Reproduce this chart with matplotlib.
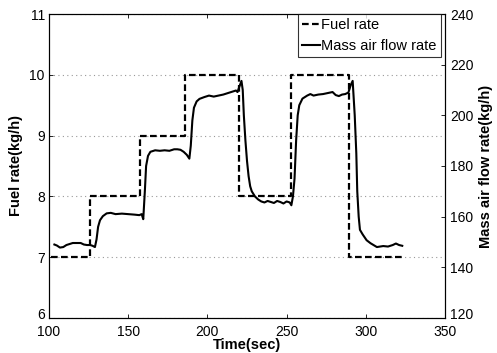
import matplotlib
matplotlib.use("Agg")
import matplotlib.pyplot as plt
import matplotlib.transforms as mtransforms

plt.rcParams['font.family'] = ['Liberation Sans', 'DejaVu Sans']

# Fuel rate steps (sec, kg/h)
fuel_t = [101, 126, 126, 157.5, 157.5, 186, 186, 219.7, 219.7, 252.6, 252.6, 289.6, 289.6, 322.6]
fuel_v = [7, 7, 8, 8, 9, 9, 10, 10, 8, 8, 10, 10, 7, 7]

# Mass air flow rate (sec, kg/h)
air_t = [103.4, 105, 106.9, 109, 111, 113, 115, 118, 120, 122, 124, 126, 127.5, 129,
         130, 131, 132.2, 134, 136.4, 139, 142, 146, 150, 154, 157, 158.5, 159.5,
         160.5, 161.3, 162.5, 164, 167, 170, 173, 176, 179, 181, 183, 185, 187, 188.6,
         189.5, 190.5, 191.5, 193.2, 195, 198, 201, 204, 207, 210, 213, 216, 218, 219,
         220, 221.5, 222.3, 223, 224, 225, 226, 227, 228, 230, 232, 234, 236, 238, 240,
         242, 244, 246, 248, 250, 252, 253, 254, 255, 256, 257, 258, 260, 263, 265,
         267, 270, 273, 276, 279, 281, 283, 285, 287, 289, 290.5, 291.7, 293, 294,
         294.6, 295.5, 296.3, 298, 300.5, 303, 307, 311, 314, 317, 319, 321, 323]
air_v = [149.0, 148.6, 147.8, 148.0, 148.8, 149.2, 149.6, 149.6, 149.6, 149.0, 148.8, 148.8, 148.5, 148.0,
         151.0, 156.0, 158.6, 160.2, 161.3, 161.5, 161.0, 161.2, 161.0, 160.8, 160.6, 161.0, 159.0,
         170.0, 180.0, 184.0, 185.6, 186.2, 186.0, 186.2, 186.0, 186.6, 186.6, 186.4, 185.6, 184.4, 182.9,
         188.0, 198.0, 203.0, 205.5, 206.5, 207.2, 207.8, 207.4, 207.8, 208.2, 208.8, 209.4, 209.8, 209.2,
         211.0, 213.6, 210.0, 200.0, 190.0, 182.0, 176.0, 172.0, 170.0, 168.0, 166.8, 166.0, 165.6, 166.2, 165.8,
         165.4, 166.2, 165.8, 165.2, 166.0, 165.6, 164.5, 168.0, 175.0, 190.0, 200.0, 204.0, 206.6, 207.8, 208.4,
         207.8, 208.2, 208.4, 208.8, 209.2, 208.0, 207.6, 208.2, 208.4, 209.0, 212.0, 213.6, 200.0, 185.0,
         170.0, 160.0, 154.8, 153.0, 150.7, 149.5, 148.0, 148.4, 148.2, 148.8, 149.4, 148.8, 148.5]

x_ticks = [100, 150, 200, 250, 300, 350]
left_ticks = [6, 7, 8, 9, 10, 11]
right_ticks = [120, 140, 160, 180, 200, 220, 240]

fig = plt.figure(figsize=(4.97, 3.53), dpi=100)
ax = fig.add_axes([0.0986, 0.0992, 0.7968, 0.8611])
ax2 = ax.twinx()

l1, = ax.plot(fuel_t, fuel_v, color='black', linestyle=(0, (3, 1.5)), linewidth=1.6, label='Fuel rate')
l2, = ax2.plot(air_t, air_v, color='black', linestyle='-', linewidth=1.5, label='Mass air flow rate')

ax.set_xlim(100, 350)
ax.set_ylim(6, 11)
ax2.set_ylim(120, 240)
ax.set_xticks(x_ticks)
ax.set_yticks(left_ticks)
ax2.set_yticks(right_ticks)

ax.yaxis.grid(True, linestyle=(0, (1, 3)), color='#999999', linewidth=0.8)
ax.set_axisbelow(True)

for a in (ax, ax2):
    a.tick_params(direction='in', length=3, labelsize=10, width=0.6)
    for s in a.spines.values():
        s.set_linewidth(0.8)
ax.tick_params(top=True)
ax.tick_params(axis='x', pad=5)
ax.tick_params(axis='y', pad=3)

ax.set_xlabel('Time(sec)', fontsize=10.5, fontweight='bold', labelpad=-1)
ax.set_ylabel('Fuel rate(kg/h)', fontsize=10.5, fontweight='bold', labelpad=5)
ax2.set_ylabel('Mass air flow rate(kg/h)', fontsize=10.5, fontweight='bold', labelpad=4)

leg = ax2.legend(handles=[l1, l2], loc='upper right', bbox_to_anchor=(0.99, 1.0),
                 fontsize=10.5, frameon=True, fancybox=False, edgecolor='black',
                 handlelength=1.2, handletextpad=0.1, borderpad=0.3, labelspacing=0.45,
                 borderaxespad=0.0)
leg.get_frame().set_linewidth(0.8)

# nudge the lowest y tick labels up slightly so they clear the x tick labels
fig.canvas.draw()
shift = mtransforms.ScaledTranslation(0, 3 / 72, fig.dpi_scale_trans)
for lab in (ax.get_yticklabels()[0], ax2.get_yticklabels()[0]):
    lab.set_transform(lab.get_transform() + shift)

fig.savefig('out.png', dpi=100)
